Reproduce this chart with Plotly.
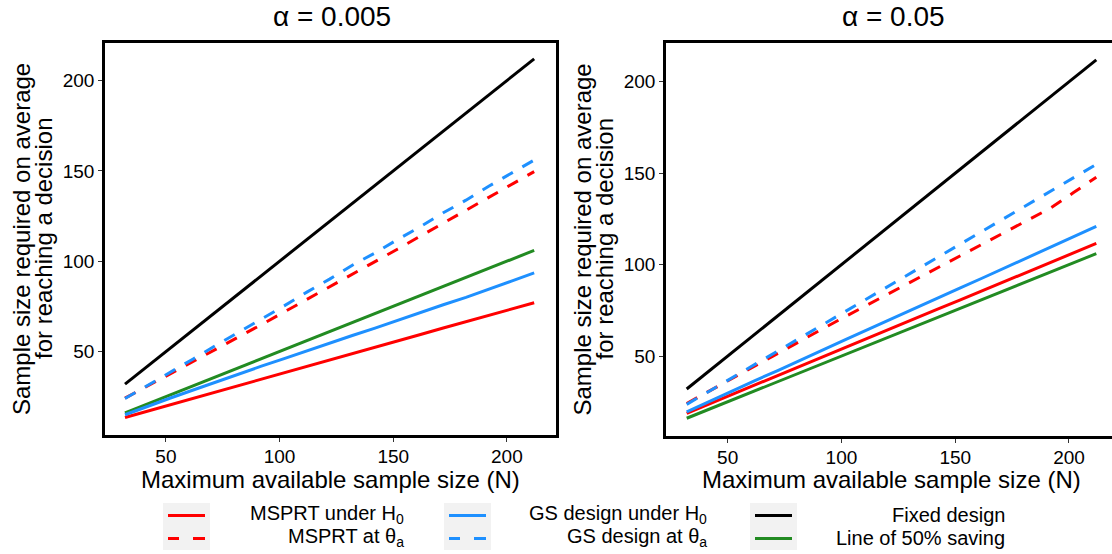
import plotly.graph_objects as go

# ---------------- data ----------------
N = [32, 42, 52, 62, 72, 82, 92, 102, 112, 122, 132, 142, 152, 162, 172, 182, 192, 202, 212]

# alpha = 0.005
fixed_005 = [32, 42, 52, 62, 72, 82, 92, 102, 112, 122, 132, 142, 152, 162, 172, 182, 192, 202, 212]
half_005 = [16, 21, 26, 31, 36, 41, 46, 51, 56, 61, 66, 71, 76, 81, 86, 91, 96, 101, 106]
msprt_h0_005 = [13.5, 17.0, 20.6, 24.1, 27.6, 31.2, 34.7, 38.2, 41.8, 45.3, 48.8, 52.4, 55.9, 59.4, 63.0, 66.5, 70.0, 73.5, 77.0]
msprt_ta_005 = [24.2, 30.9, 37.7, 44.5, 51.3, 58.1, 64.9, 71.8, 78.7, 85.7, 92.7, 99.8, 106.8, 114.0, 121.0, 128.2, 135.4, 142.5, 149.6]
gs_h0_005 = [15.0, 19.8, 24.3, 28.7, 33.2, 37.4, 41.9, 46.1, 50.5, 54.5, 58.9, 63.0, 67.4, 71.4, 75.9, 80.0, 84.7, 89.0, 93.5]
gs_ta_005 = [24.0, 31.2, 38.8, 45.9, 53.4, 60.6, 68.1, 75.3, 82.9, 90.1, 97.8, 104.6, 112.1, 119.2, 126.8, 133.8, 141.5, 148.6, 156.0]

# alpha = 0.05
fixed_05 = [32, 42, 52, 62, 72, 82, 92, 102, 112, 122, 132, 142, 152, 162, 172, 182, 192, 202, 212]
half_05 = [16, 21, 26, 31, 36, 41, 46, 51, 56, 61, 66, 71, 76, 81, 86, 91, 96, 101, 106]
msprt_h0_05 = [18.7, 23.9, 29.0, 34.2, 39.4, 44.5, 49.7, 54.8, 60.0, 65.2, 70.3, 75.5, 80.6, 85.8, 91.0, 96.1, 101.3, 106.4, 111.6]
msprt_ta_05 = [24.1, 31.0, 37.9, 44.8, 51.6, 58.4, 65.1, 71.8, 78.4, 85.0, 91.6, 98.2, 104.8, 111.4, 117.9, 124.5, 131.0, 139.4, 147.8]
gs_h0_05 = [19.5, 25.3, 30.8, 36.6, 42.1, 47.9, 53.4, 59.1, 64.7, 70.4, 75.8, 81.6, 87.1, 92.7, 98.4, 103.9, 109.6, 115.2, 120.9]
gs_ta_05 = [23.6, 30.9, 38.3, 45.6, 52.9, 60.3, 67.5, 74.8, 82.2, 89.4, 96.8, 104.0, 111.3, 118.7, 125.8, 133.3, 140.3, 147.6, 154.8]

x_ticks = [50, 100, 150, 200]
y_ticks = [50, 100, 150, 200]
panel_titles = ["\u03b1 = 0.005", "\u03b1 = 0.05"]
x_title = "Maximum available sample size (N)"
y_title_lines = ["Sample size required on average", "for reaching a decision"]

legend_labels = [
    ["MSPRT under H<sub>0</sub>", "MSPRT at \u03b8<sub>a</sub>"],
    ["GS design under H<sub>0</sub>", "GS design at \u03b8<sub>a</sub>"],
    ["Fixed design", "Line of 50% saving"],
]

RED = "#FF0000"
BLUE = "#1E90FF"
BLACK = "#000000"
GREEN = "#228B22"
DASH = "12px,11px"
FONT = "Liberation Sans, Arial, sans-serif"

W, H = 1112, 554


def px(x):
    return x / W


def py(y):
    return 1 - y / H


fig = go.Figure()

panels = [
    dict(xa="x", ya="y", fixed=fixed_005, half=half_005, mh0=msprt_h0_005, mta=msprt_ta_005, gh0=gs_h0_005, gta=gs_ta_005),
    dict(xa="x2", ya="y2", fixed=fixed_05, half=half_05, mh0=msprt_h0_05, mta=msprt_ta_05, gh0=gs_h0_05, gta=gs_ta_05),
]

for p in panels:
    series = [
        ("Line of 50% saving", p["half"], GREEN, "solid"),
        ("MSPRT under H0", p["mh0"], RED, "solid"),
        ("GS design under H0", p["gh0"], BLUE, "solid"),
        ("MSPRT at theta_a", p["mta"], RED, DASH),
        ("GS design at theta_a", p["gta"], BLUE, DASH),
        ("Fixed design", p["fixed"], BLACK, "solid"),
    ]
    for name, vals, col, dash in series:
        fig.add_trace(go.Scatter(
            x=N, y=vals, mode="lines", name=name, showlegend=False,
            line=dict(color=col, width=3, dash=dash),
            xaxis=p["xa"], yaxis=p["ya"],
        ))

axis_common = dict(
    showgrid=False, zeroline=False, showline=True, linecolor="black", linewidth=2.5,
    ticks="outside", ticklen=4, tickwidth=1, tickcolor="#333333",
    tickfont=dict(size=19, color="black", family=FONT),
)

fig.update_layout(
    width=W, height=H,
    margin=dict(l=0, r=0, t=0, b=0),
    paper_bgcolor="white", plot_bgcolor="white",
    font=dict(family=FONT, color="black"),
    xaxis=dict(domain=[px(105), px(556)], range=[23.2, 221.6], tickvals=x_ticks, mirror=True,
               anchor="y", ticklabelstandoff=-2, **axis_common),
    yaxis=dict(domain=[py(435), py(43)], range=[3.8, 220.8], tickvals=y_ticks, mirror=True,
               anchor="x", **axis_common),
    xaxis2=dict(domain=[px(666), 1.0], range=[22.9, 218.9], tickvals=x_ticks, mirror=True,
                anchor="y2", ticklabelstandoff=-2, **axis_common),
    yaxis2=dict(domain=[py(436), py(43)], range=[6.3, 221.2], tickvals=y_ticks, mirror=False,
                anchor="x2", **axis_common),
    showlegend=False,
)

annotations = []
# panel titles
for cx, t in zip([332, 893], panel_titles):
    annotations.append(dict(text=t, x=px(cx), y=py(17), xref="paper", yref="paper",
                            xanchor="center", yanchor="middle", showarrow=False,
                            font=dict(size=28, family=FONT, color="black")))
# x titles
for cx in [330.5, 891]:
    annotations.append(dict(text=x_title, x=px(cx), y=py(479), xref="paper", yref="paper",
                            xanchor="center", yanchor="middle", showarrow=False, borderpad=0,
                            font=dict(size=24, family=FONT, color="black")))
# y titles (two lines each)
for off, cy in [(0, 239), (561, 239.5)]:
    for lx, line in zip([21, 43], y_title_lines):
        annotations.append(dict(text=line, x=px(off + lx), y=py(cy), xref="paper", yref="paper",
                                xanchor="center", yanchor="middle", showarrow=False, textangle=-90,
                                borderpad=0, font=dict(size=24, family=FONT, color="black")))

# manual legend (ggplot style: key then right-aligned label)
shapes = []
box_left = [163, 444, 750]
text_right = [405, 708, 1006]
key_colors = [RED, BLUE, (BLACK, GREEN)]
row_y = [515.5, 538.5]
for i in range(3):
    bl = box_left[i]
    shapes.append(dict(type="rect", xref="paper", yref="paper",
                       x0=px(bl), x1=px(bl + 47), y0=py(550), y1=py(503),
                       fillcolor="#F2F2F2", line=dict(width=0), layer="below"))
    for r in range(2):
        if i < 2:
            col = key_colors[i]
            dash = "solid" if r == 0 else "dash"
        else:
            col = key_colors[i][r]
            dash = "solid"
        if dash == "solid":
            shapes.append(dict(type="line", xref="paper", yref="paper",
                               x0=px(bl + 5), x1=px(bl + 42), y0=py(row_y[r]), y1=py(row_y[r]),
                               line=dict(color=col, width=3)))
        else:
            for a, b in [(bl + 5, bl + 16), (bl + 30, bl + 42)]:
                shapes.append(dict(type="line", xref="paper", yref="paper",
                                   x0=px(a), x1=px(b), y0=py(row_y[r]), y1=py(row_y[r]),
                                   line=dict(color=col, width=3)))
        annotations.append(dict(text=legend_labels[i][r], x=px(text_right[i]), y=py(row_y[r] - 1),
                                xref="paper", yref="paper", xanchor="right", yanchor="middle",
                                showarrow=False, borderpad=0,
                                font=dict(size=20, family=FONT, color="black")))

fig.update_layout(annotations=annotations, shapes=shapes)

fig.write_html("out.html")
